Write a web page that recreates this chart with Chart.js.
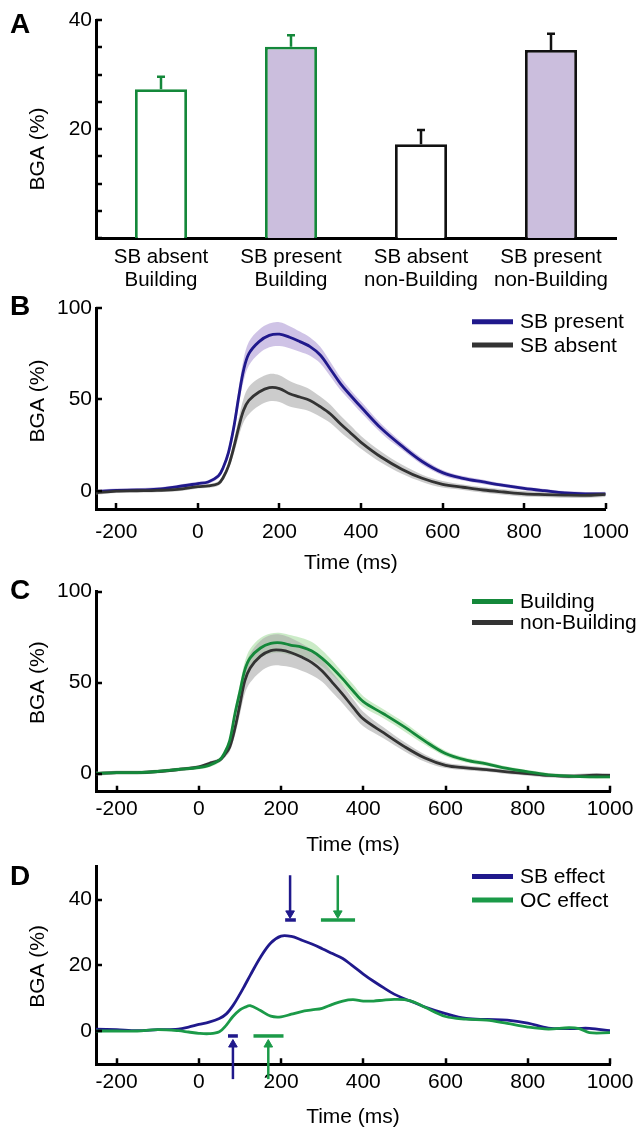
<!DOCTYPE html>
<html>
<head>
<meta charset="utf-8">
<script src="https://cdn.jsdelivr.net/npm/chart.js@4.4.1/dist/chart.umd.min.js"></script>
<style>
  body { margin: 0; background: #fff; }
  #fig { position: relative; width: 640px; height: 1130px; font-family: 'Liberation Sans', Arial, sans-serif; }
  #fig canvas { position: absolute; left: 0; }
  .panel { position: absolute; left: 10px; font-weight: bold; font-size: 28px; line-height: 28px; }
</style>
</head>
<body>
<div id="fig">
  <canvas id="chartA" width="640" height="295" style="top:0"></canvas>
  <canvas id="chartB" width="640" height="290" style="top:290px"></canvas>
  <canvas id="chartC" width="640" height="290" style="top:575px"></canvas>
  <canvas id="chartD" width="640" height="280" style="top:850px"></canvas>
  <div class="panel" style="top:10px">A</div>
  <div class="panel" style="top:292px">B</div>
  <div class="panel" style="top:576px">C</div>
  <div class="panel" style="top:862px">D</div>
</div>
<script>
// ── data ──

// A: mean BGA per condition, with upper error
const barLabels = [['SB absent', 'Building'], ['SB present', 'Building'], ['SB absent', 'non-Building'], ['SB present', 'non-Building']];
const barMeans = [27.3, 35.1, 17.2, 34.5];
const barErrors = [2.3, 2.1, 2.6, 3.0];
const barTicks = [0, 5, 10, 15, 20, 25, 30, 35, 40];
const barTickLabels = [20, 40];

// B, C: time courses (ms) with SEM bands
const tBC = [-250, -200, -150, -100, -50, 0, 25, 50, 62, 75, 88, 100, 112, 125, 150, 175, 200, 225, 250, 275, 300, 325, 350, 375, 400, 450, 500, 550, 600, 650, 700, 750, 800, 850, 900, 950, 1000];
const sbPresent = [-0.5, 0.2, 0.4, 0.9, 2.2, 3.9, 4.8, 8, 12.7, 21, 34.7, 51.3, 66, 75, 81.6, 85, 85.7, 84, 81.6, 78.9, 74.3, 66.5, 58.5, 52, 45.8, 34, 24.5, 16, 9.9, 6.8, 4.8, 2.9, 1.3, 0, -1.2, -1.7, -1.7];
const sbPresentSem = [1, 1, 1, 1, 1, 1, 1, 1.2, 1.5, 2.5, 4, 5, 6, 6.5, 6.5, 6.5, 6.5, 6, 5.5, 5, 4.5, 4, 3.5, 3, 3, 2.5, 2, 1.8, 1.5, 1.2, 1.2, 1, 1, 1, 1, 1, 1];
const sbAbsent = [-1.1, -0.2, 0, 0.2, 0.7, 2.2, 2.6, 3.9, 7.2, 13.6, 23.7, 34.7, 44, 49.4, 54, 56.4, 55.9, 53.1, 51.3, 49.4, 46, 42, 36.5, 31.5, 26.5, 18.3, 11.8, 6.8, 3.5, 1.9, 0.4, -0.7, -1.7, -2.1, -2.4, -2.5, -2];
const sbAbsentSem = [1, 1, 1, 1, 1, 1, 1, 1.2, 1.5, 2, 3.5, 5, 6.5, 7.5, 7.5, 7.5, 7.3, 7, 6.5, 6, 5.5, 5, 4.5, 4, 3.5, 3, 2.5, 2, 1.8, 1.5, 1.5, 1.5, 1.5, 1.5, 1.5, 1.5, 1.5];
const building = [0, 0.5, 0.5, 1.1, 2.2, 3.3, 4.5, 7.3, 11, 18, 33, 45, 57, 63.6, 69, 71.5, 71.8, 70.5, 69.5, 67.3, 63.3, 58, 52, 45.5, 39.5, 32.7, 25.6, 17.8, 11, 7.4, 5.3, 2.8, 0.9, -0.7, -1.4, -1.8, -1.8];
const buildingSem = [1, 1, 1, 1, 1, 1, 1, 1.2, 1.5, 2, 3, 4, 4.5, 5, 5.5, 5.5, 5.5, 5.5, 5, 5, 4.5, 4, 3.5, 3.5, 3, 2.5, 2.5, 2, 1.5, 1.3, 1.2, 1, 1, 1, 1, 1, 1];
const nonBuilding = [0, 0.5, 0.5, 1.1, 2.2, 3.6, 5.5, 7.3, 10, 14.5, 25, 38, 51, 58, 64.5, 67.6, 67.8, 66.4, 64, 61, 56.4, 50, 43.5, 36.5, 30, 22.3, 14.8, 8.5, 4.5, 3.1, 2.1, 0.9, 0, -1, -1.5, -1, -1];
const nonBuildingSem = [1, 1, 1, 1, 1, 1, 1, 1.2, 1.5, 2.5, 4, 5.5, 7, 8, 8.5, 8.5, 8.5, 8, 7.5, 7, 6, 5.5, 5, 4.5, 4, 3, 2.5, 2, 1.5, 1.3, 1.2, 1.2, 1.2, 1.2, 1.2, 1.2, 1.2];

// D: effect time courses
const tD = [-250, -200, -150, -100, -50, -25, 0, 25, 50, 67, 83, 100, 112, 125, 150, 175, 200, 225, 250, 275, 300, 325, 350, 375, 400, 425, 450, 475, 500, 525, 550, 600, 650, 700, 750, 800, 850, 900, 925, 950, 1000];
const sbEffect = [0.7, 0.5, 0.2, 0.5, 0.7, 1.3, 2.1, 2.8, 3.9, 5.3, 7.8, 11.3, 14, 17, 22.5, 26.8, 28.9, 28.8, 27.7, 26.5, 25.1, 23.6, 22.1, 19.8, 17.4, 15.2, 13.2, 11.3, 9.9, 8.7, 7.4, 5.4, 3.9, 3.6, 3.4, 2.5, 1.0, 0.8, 0.9, 0.9, 0.2];
const ocEffect = [0.1, 0.1, 0.1, 0.5, 0.2, -0.2, -0.6, -0.7, -0.1, 1.9, 4.5, 6.5, 7.3, 7.8, 6.3, 4.6, 4.4, 5.2, 6, 6.5, 7, 8.2, 9.2, 9.6, 9.2, 9.2, 9.5, 9.7, 9.6, 8.8, 7.3, 4.5, 3.7, 3.4, 2.4, 1.3, 0.7, 1.1, 0.8, -0.4, -0.4];
// significance windows (onset, peak) and arrow times
const sbWindows = [[71, 95], [210, 236]];
const ocWindows = [[133, 206], [297, 380]];
const sbArrows = [83, 222];
const ocArrows = [169, 338];
const windowLevels = [-1.4, 33.8];
const arrowSpans = [[-14.5, -4], [47.4, 35.8]];

const timeTicks = [-200, 0, 200, 400, 600, 800, 1000];
const bgaTicksBC = [0, 50, 100];
const bgaTicksD = [0, 20, 40];

// ── estilos ──
const NAVY = '#20198c';
const DARK = '#333333';
const GREEN = '#14883a';
const GREEN_D = '#1b9a48';
const LAVENDER = '#cbbedd';

Chart.defaults.font.family = "'Liberation Sans', Arial, sans-serif";
Chart.defaults.font.size = 21;
Chart.defaults.color = '#000';
Chart.defaults.animation = false;
Chart.defaults.plugins.legend.display = false;
Chart.defaults.plugins.tooltip.enabled = false;

const pts = (t, v) => t.map((x, i) => ({ x, y: v[i] }));

// y title drawn at the left, shifted from the plot centre
const sideTitle = {
  id: 'sideTitle',
  afterDraw(chart, args, o) {
    const { ctx, chartArea } = chart;
    ctx.save();
    ctx.translate(38, (chartArea.top + chartArea.bottom) / 2 + o.dy);
    ctx.rotate(-Math.PI / 2);
    ctx.font = "21px 'Liberation Sans', Arial, sans-serif";
    ctx.fillStyle = '#000';
    ctx.textAlign = 'center';
    ctx.textBaseline = 'middle';
    ctx.fillText(o.label, 0, 0);
    ctx.restore();
  }
};

// legend in the upper right corner
const cornerLegend = {
  id: 'cornerLegend',
  afterDraw(chart, args, o) {
    if (!o.names) return;
    const { ctx, chartArea } = chart;
    ctx.save();
    ctx.font = "21px 'Liberation Sans', Arial, sans-serif";
    ctx.textBaseline = 'middle';
    o.names.forEach((name, i) => {
      const y = chartArea.top + o.rows[i];
      ctx.strokeStyle = o.colors[i];
      ctx.lineWidth = 5;
      ctx.beginPath();
      ctx.moveTo(472, y);
      ctx.lineTo(513, y);
      ctx.stroke();
      ctx.fillStyle = '#000';
      ctx.fillText(name, 520, y + 1);
    });
    ctx.restore();
  }
};

// inward tick marks on the y axis (and on a linear x axis)
const inTicks = {
  id: 'inTicks',
  afterDraw(chart) {
    const { ctx, chartArea } = chart;
    const ys = chart.scales.y, xs = chart.scales.x;
    ctx.save();
    ctx.strokeStyle = '#000';
    ctx.lineWidth = 2.5;
    ctx.beginPath();
    ys.ticks.forEach(t => {
      const p = Math.round(ys.getPixelForValue(t.value));
      ctx.moveTo(chartArea.left, p);
      ctx.lineTo(chartArea.left + 6, p);
    });
    if (xs.type === 'linear') {
      xs.ticks.forEach(t => {
        const p = Math.round(xs.getPixelForValue(t.value));
        ctx.moveTo(p, chartArea.bottom);
        ctx.lineTo(p, chartArea.bottom - 6);
      });
    }
    ctx.stroke();
    ctx.restore();
  }
};

// upward error bars for panel A
const errorBars = {
  id: 'errorBars',
  afterDatasetsDraw(chart) {
    const { ctx } = chart;
    const y = chart.scales.y;
    chart.getDatasetMeta(0).data.forEach((bar, i) => {
      const top = y.getPixelForValue(barMeans[i] + barErrors[i]);
      ctx.save();
      ctx.strokeStyle = chart.data.datasets[0].borderColor[i];
      ctx.lineWidth = 2.5;
      ctx.beginPath();
      ctx.moveTo(bar.x, bar.y);
      ctx.lineTo(bar.x, top);
      ctx.moveTo(bar.x - 4, top);
      ctx.lineTo(bar.x + 4, top);
      ctx.stroke();
      ctx.restore();
    });
  }
};

const noGrid = { display: false, drawTicks: false };
const axisBorder = { color: '#000', width: 3 };

// ── A: barras ──
new Chart(document.getElementById('chartA'), {
  type: 'bar',
  data: {
    labels: barLabels,
    datasets: [{
      data: barMeans,
      backgroundColor: ['#ffffff', LAVENDER, '#ffffff', LAVENDER],
      borderColor: [GREEN, GREEN, '#111111', '#111111'],
      borderWidth: 2.8,
      barPercentage: 0.4,
      categoryPercentage: 1
    }]
  },
  options: {
    responsive: false,
    layout: { padding: { top: 20, right: 24, left: 0, bottom: 0 } },
    plugins: { sideTitle: { label: 'BGA (%)', dy: 20 }, cornerLegend: {} },
    scales: {
      x: {
        grid: noGrid,
        border: axisBorder,
        ticks: { padding: 7.5, font: { size: 20.5, lineHeight: 1.12 }, autoSkip: false, maxRotation: 0 },
        afterFit: s => { s.height = 57; }
      },
      y: {
        min: 0, max: 40,
        afterBuildTicks: s => { s.ticks = barTicks.map(v => ({ value: v })); },
        afterFit: s => { s.width = 96; },
        ticks: { padding: 4, autoSkip: false, callback: v => barTickLabels.includes(v) ? String(v) : '' },
        grid: noGrid,
        border: axisBorder
      }
    }
  },
  plugins: [errorBars, inTicks, sideTitle, cornerLegend]
});

// ── B, C, D: curvas ──
const line = (t, v, color) => ({
  data: pts(t, v), borderColor: color, borderWidth: 2.8, pointRadius: 0,
  tension: 0.35, fill: false
});
const bandPair = (t, mean, sem, color) => [
  { data: pts(t, mean.map((m, i) => m + sem[i])), borderWidth: 0, pointRadius: 0, backgroundColor: color, fill: '+1', tension: 0.35 },
  { data: pts(t, mean.map((m, i) => m - sem[i])), borderWidth: 0, pointRadius: 0, fill: false, tension: 0.35 }
];

function timeChart(id, datasets, c) {
  return new Chart(document.getElementById(id), {
    type: 'line',
    data: { datasets },
    options: {
      responsive: false,
      layout: { padding: { top: c.top, right: 30, left: 0, bottom: 0 } },
      plugins: {
        filler: { drawTime: 'beforeDatasetsDraw' },
        sideTitle: { label: 'BGA (%)', dy: c.titleDy },
        cornerLegend: c.legend
      },
      scales: {
        x: {
          type: 'linear', min: -250, max: 1000,
          afterBuildTicks: s => { s.ticks = timeTicks.map(v => ({ value: v })); },
          afterFit: s => { s.height = c.xHeight; },
          ticks: { padding: c.xPad, callback: v => String(v), maxRotation: 0, autoSkip: false },
          grid: noGrid,
          border: axisBorder,
          title: { display: true, text: 'Time (ms)', padding: { top: 0, bottom: c.titlePad } }
        },
        y: {
          min: c.yMin, max: c.yMax,
          afterBuildTicks: s => { s.ticks = c.yTicks.map(v => ({ value: v })); },
          afterFit: s => { s.width = 96; },
          ticks: { padding: 4, autoSkip: false, callback: v => String(v) },
          grid: noGrid,
          border: axisBorder
        }
      }
    },
    plugins: [inTicks, sideTitle, cornerLegend]
  });
}

timeChart('chartB', [
  line(tBC, sbAbsent, DARK),
  line(tBC, sbPresent, NAVY),
  ...bandPair(tBC, sbAbsent, sbAbsentSem, 'rgba(170,170,170,0.6)'),
  ...bandPair(tBC, sbPresent, sbPresentSem, 'rgba(160,135,205,0.5)')
], {
  top: 18, xHeight: 71, xPad: 11, titlePad: 4.4, titleDy: -7.5,
  yMin: -10, yMax: 100, yTicks: bgaTicksBC,
  legend: { names: ['SB present', 'SB absent'], colors: [NAVY, DARK], rows: [13.7, 37] }
});

timeChart('chartC', [
  line(tBC, building, GREEN),
  line(tBC, nonBuilding, DARK),
  ...bandPair(tBC, nonBuilding, nonBuildingSem, 'rgba(170,170,170,0.6)'),
  ...bandPair(tBC, building, buildingSem, 'rgba(140,210,130,0.45)')
], {
  top: 15, xHeight: 73.3, xPad: 5, titlePad: 7.4, titleDy: -9,
  yMin: -10, yMax: 100, yTicks: bgaTicksBC,
  legend: { names: ['Building', 'non-Building'], colors: [GREEN, DARK], rows: [10, 31] }
});

// significance windows and arrows for panel D
const segment = (pairs, color, width) => ({
  data: pairs.map(([x, y]) => ({ x, y })), borderColor: color, borderWidth: width,
  pointRadius: 0, clip: false, fill: false
});
const arrow = (t, span, color, up) => ({
  data: [{ x: t, y: span[0] }, { x: t, y: span[1] }],
  borderColor: color, borderWidth: 2.5, clip: false, fill: false,
  pointRadius: [0, 5], pointStyle: 'triangle', pointRotation: up ? 0 : 180,
  pointBackgroundColor: color, pointBorderColor: color, pointBorderWidth: 1
});
const markers = [];
[[sbWindows, sbArrows, NAVY], [ocWindows, ocArrows, GREEN_D]].forEach(([wins, arrs, color]) => {
  wins.forEach((w, k) => markers.push(segment([[w[0], windowLevels[k]], [w[1], windowLevels[k]]], color, 3.5)));
  arrs.forEach((t, k) => markers.push(arrow(t, arrowSpans[k], color, k === 0)));
});

timeChart('chartD', [
  line(tD, ocEffect, GREEN_D),
  line(tD, sbEffect, NAVY),
  ...markers
], {
  top: 13.3, xHeight: 65.7, xPad: 5.5, titlePad: 0.4, titleDy: 1,
  yMin: -10, yMax: 50, yTicks: bgaTicksD,
  legend: { names: ['SB effect', 'OC effect'], colors: [NAVY, GREEN_D], rows: [10, 33.4] }
});
</script>
</body>
</html>
